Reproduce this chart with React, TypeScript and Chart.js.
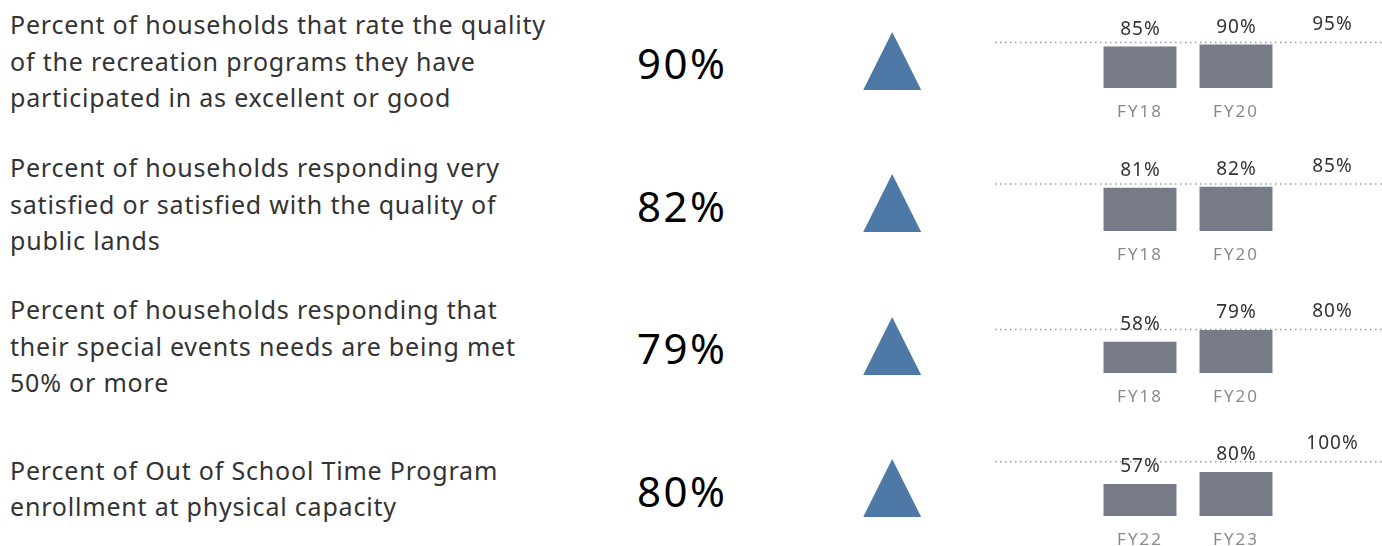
import React, { useEffect, useRef } from 'react';
import { Chart, registerables } from 'chart.js';

Chart.register(...registerables);

// ---------- data ----------
const fiscalYearsEarly = ['FY18', 'FY20'];
const fiscalYearsLate = ['FY22', 'FY23'];

const recreationQuality = [85, 90];
const publicLandsSatisfaction = [81, 82];
const specialEventsMet = [58, 79];
const outOfSchoolEnrollment = [57, 80];

const targets = [95, 85, 80, 100];

const descriptionLines = [
  ['Percent of households that rate the quality', 'of the recreation programs they have', 'participated in as excellent or good'],
  ['Percent of households responding very', 'satisfied or satisfied with the quality of', 'public lands'],
  ['Percent of households responding that', 'their special events needs are being met', '50% or more'],
  ['Percent of Out of School Time Program', 'enrollment at physical capacity'],
];

const rowValues = [recreationQuality, publicLandsSatisfaction, specialEventsMet, outOfSchoolEnrollment];
const rowYears = [fiscalYearsEarly, fiscalYearsEarly, fiscalYearsEarly, fiscalYearsLate];

// ---------- layout / style ----------
const FONT = '"Noto Sans", "Open Sans", sans-serif';
const yRanges: [number, number][] = [
  [-18.5, 181.5],
  [32.9, 121.8],
  [1.9, 145.3],
  [-4.5, 149.3],
];
const canvasTops = [0, 143, 285, 428];
const rowCenters = [61, 204, 346, 487.5];
const numberCenters = [63, 206, 348, 491];
const triangleCenters = [60.8, 203.2, 345.7, 488.2];
const CANVAS_H = 138;

const kpiPlugin = {
  id: 'kpi',
  beforeDraw(chart: any) {
    chart.ctx.letterSpacing = '2px';
  },
  beforeDatasetsDraw(chart: any, _args: any, opts: any) {
    const { ctx, scales } = chart;
    const py = scales.y.getPixelForValue(opts.target);
    ctx.save();
    ctx.strokeStyle = '#9a9a9a';
    ctx.lineWidth = 1.5;
    ctx.setLineDash([1.5, 3.5]);
    ctx.beginPath();
    ctx.moveTo(opts.lineStart, py);
    ctx.lineTo(chart.width, py);
    ctx.stroke();
    ctx.restore();
  },
  afterDatasetsDraw(chart: any, _args: any, opts: any) {
    const { ctx, scales } = chart;
    const meta = chart.getDatasetMeta(0);
    const data = chart.data.datasets[0].data;
    ctx.save();
    ctx.font = `19px ${FONT}`;
    ctx.letterSpacing = '1px';
    ctx.fillStyle = '#333333';
    ctx.textAlign = 'center';
    ctx.textBaseline = 'middle';
    meta.data.forEach((bar: any, i: number) => {
      const v = data[i];
      if (v === null || v === undefined) return;
      ctx.fillText(`${v}%`, bar.x + 0.5, bar.y - 17);
    });
    const py = scales.y.getPixelForValue(opts.target);
    const tx = scales.x.getPixelForValue(opts.targetIndex);
    ctx.fillText(`${opts.target}%`, tx + 0.5, py - 18);
    ctx.restore();
  },
};

function BarPanel({ idx }: { idx: number }) {
  const ref = useRef<HTMLCanvasElement | null>(null);
  useEffect(() => {
    if (!ref.current) return;
    const values = rowValues[idx];
    const years = rowYears[idx];
    const [ymin, ymax] = yRanges[idx];
    const chart = new Chart(ref.current, {
      type: 'bar',
      data: {
        labels: [...years, ''],
        datasets: [
          {
            data: [...values, null],
            backgroundColor: '#767b87',
            barPercentage: 0.76,
            categoryPercentage: 1,
            base: ymin,
          } as any,
        ],
      },
      options: {
        animation: false,
        responsive: false,
        devicePixelRatio: 1,
        layout: { padding: { left: 102, right: 2, top: 8, bottom: 1.6 } },
        scales: {
          y: { display: false, min: ymin, max: ymax },
          x: {
            grid: { display: false, drawTicks: false },
            border: { display: false },
            ticks: { font: { family: FONT, size: 17 }, color: '#8a8a8a', padding: 14 },
          },
        },
        plugins: {
          legend: { display: false },
          tooltip: { enabled: false },
          kpi: { target: targets[idx], targetIndex: years.length, lineStart: 5 },
        } as any,
      },
      plugins: [kpiPlugin],
    });
    return () => chart.destroy();
  }, [idx]);
  return (
    <div style={{ position: 'absolute', left: 990, top: canvasTops[idx], width: 392, height: CANVAS_H }}>
      <canvas ref={ref} width={392} height={CANVAS_H} style={{ width: 392, height: CANVAS_H }} />
    </div>
  );
}

function Row({ idx }: { idx: number }) {
  const values = rowValues[idx];
  const current = values[values.length - 1];
  const up = current >= values[values.length - 2];
  return (
    <>
      <div
        style={{
          position: 'absolute',
          left: 10,
          top: rowCenters[idx],
          transform: 'translateY(-50%)',
          fontFamily: FONT,
          fontSize: 25,
          letterSpacing: '0.8px',
          lineHeight: '36.5px',
          color: '#333333',
          whiteSpace: 'nowrap',
        }}
      >
        {descriptionLines[idx].map((l, i) => (
          <div key={i}>{l}</div>
        ))}
      </div>
      <div
        style={{
          position: 'absolute',
          left: 637,
          top: numberCenters[idx],
          transform: 'translateY(-50%)',
          fontFamily: FONT,
          fontSize: 42,
          letterSpacing: '2.5px',
          lineHeight: '50px',
          color: '#000000',
        }}
      >
        {`${current}%`}
      </div>
      <svg
        style={{ position: 'absolute', left: 863.3, top: triangleCenters[idx] - 29.2 }}
        width={58.4}
        height={58.4}
        viewBox="0 0 58.4 58.4"
      >
        <polygon points={up ? '29.2,0 58.4,58.4 0,58.4' : '0,0 58.4,0 29.2,58.4'} fill="#4e79a7" />
      </svg>
      <BarPanel idx={idx} />
    </>
  );
}

export default function App() {
  return (
    <div
      style={{
        position: 'fixed',
        left: 0,
        top: 0,
        width: 1382,
        height: 546,
        overflow: 'hidden',
        background: '#ffffff',
      }}
    >
      {rowValues.map((_, i) => (
        <Row key={i} idx={i} />
      ))}
    </div>
  );
}
